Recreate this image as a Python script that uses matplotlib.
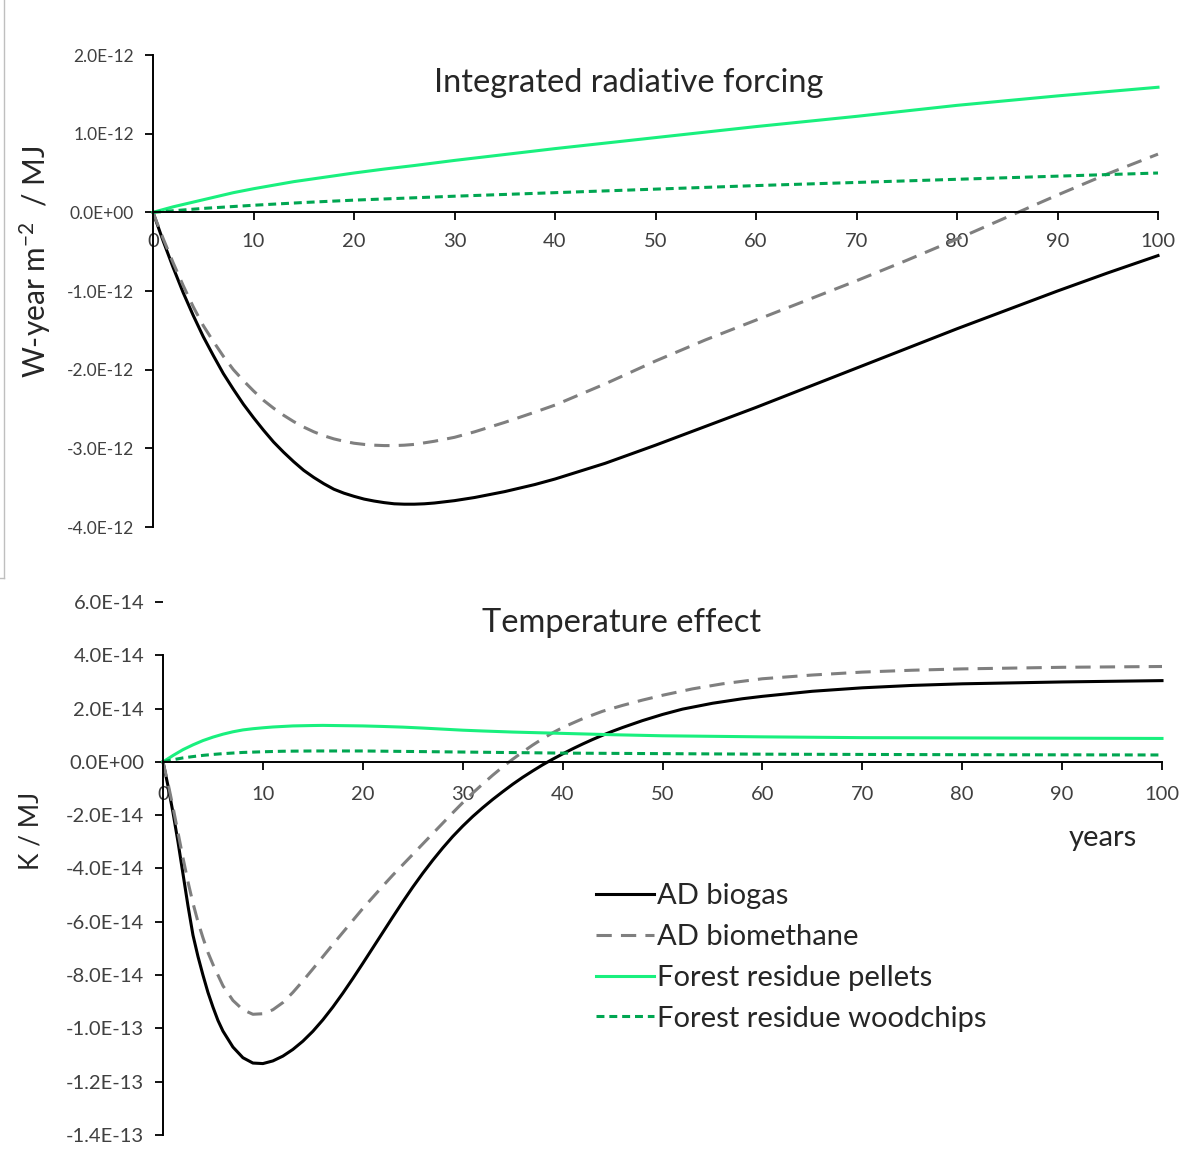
import matplotlib
matplotlib.use('Agg')
import matplotlib.pyplot as plt
from matplotlib.lines import Line2D
from matplotlib.ticker import FuncFormatter

plt.rcParams['font.family'] = ['Lato', 'DejaVu Sans']
plt.rcParams['mathtext.default'] = 'regular'

# top panel: integrated radiative forcing, in units of 1E-12 W-year m-2 / MJ
irf_bg_yr = [0, 1, 2, 3, 4, 5, 6, 7, 8, 9, 10, 11, 12, 13, 14, 15, 16, 17, 18, 19,
             20, 21, 22, 23, 24, 25, 26, 27, 28, 29, 30, 32, 35, 38, 40, 45, 50,
             55, 60, 65, 70, 75, 80, 85, 90, 95, 100]
irf_bg = [0, -0.36, -0.70, -1.02, -1.31, -1.58, -1.82, -2.05, -2.25, -2.44, -2.61,
          -2.77, -2.92, -3.05, -3.17, -3.28, -3.37, -3.45, -3.52, -3.57, -3.61,
          -3.645, -3.67, -3.69, -3.705, -3.71, -3.71, -3.705, -3.695, -3.68,
          -3.665, -3.625, -3.55, -3.46, -3.39, -3.19, -2.96, -2.72, -2.48, -2.23,
          -1.98, -1.73, -1.48, -1.24, -1.00, -0.77, -0.55]

irf_bm_yr = [0, 1, 2, 3, 4, 5, 6, 7, 8, 9, 10, 11, 12, 13, 14, 15, 16, 17, 18, 19,
             20, 21, 22, 23, 24, 25, 26, 27, 28, 30, 32, 35, 38, 40, 45, 50, 55,
             60, 65, 70, 75, 80, 85, 90, 95, 100]
irf_bm = [0, -0.33, -0.64, -0.93, -1.20, -1.44, -1.64, -1.83, -2.00, -2.14, -2.27,
          -2.39, -2.49, -2.58, -2.66, -2.73, -2.79, -2.84, -2.88, -2.91, -2.935,
          -2.95, -2.96, -2.965, -2.965, -2.96, -2.95, -2.93, -2.91, -2.86, -2.79,
          -2.67, -2.54, -2.45, -2.18, -1.89, -1.62, -1.37, -1.12, -0.87, -0.61,
          -0.34, -0.06, 0.22, 0.49, 0.74]

irf_pel_yr = [0, 1, 2, 3, 4, 5, 6, 8, 10, 12, 14, 17, 20, 23, 26, 30, 35, 40, 45,
              50, 60, 70, 80, 90, 100]
irf_pel = [0, 0.035, 0.07, 0.10, 0.13, 0.16, 0.19, 0.25, 0.30, 0.345, 0.39, 0.445,
           0.50, 0.55, 0.595, 0.66, 0.735, 0.81, 0.88, 0.95, 1.09, 1.22, 1.36,
           1.48, 1.59]

irf_wc_yr = [0, 5, 10, 15, 20, 25, 30, 40, 50, 60, 70, 80, 90, 100]
irf_wc = [0, 0.05, 0.09, 0.125, 0.155, 0.18, 0.205, 0.25, 0.295, 0.34, 0.38,
          0.42, 0.46, 0.50]

# bottom panel: temperature effect, in units of 1E-14 K / MJ
tmp_bg_yr = [0, 0.5, 1, 1.5, 2, 2.5, 3, 3.5, 4, 4.5, 5, 5.5, 6, 7, 8, 9, 10, 11,
             12, 13, 14, 15, 16, 17, 18, 19, 20, 21, 22, 23, 24, 25, 26, 27, 28,
             29, 30, 31, 32, 33, 34, 35, 36, 37, 38, 39, 40, 41, 42, 43, 44, 45,
             46, 48, 50, 52, 55, 58, 60, 65, 70, 75, 80, 90, 100]
tmp_bg = [0, -0.9, -1.9, -3.0, -4.2, -5.4, -6.5, -7.3, -8.0, -8.65, -9.2, -9.7,
          -10.1, -10.7, -11.1, -11.3, -11.32, -11.22, -11.04, -10.79, -10.48,
          -10.11, -9.68, -9.2, -8.68, -8.13, -7.56, -6.98, -6.4, -5.82, -5.25,
          -4.7, -4.18, -3.69, -3.23, -2.8, -2.41, -2.05, -1.72, -1.41, -1.12,
          -0.84, -0.58, -0.34, -0.11, 0.1, 0.3, 0.49, 0.67, 0.84, 1.0, 1.15, 1.29,
          1.55, 1.78, 1.98, 2.2, 2.37, 2.46, 2.65, 2.78, 2.87, 2.93, 3.0, 3.05]

tmp_bm_yr = [0, 0.5, 1, 1.5, 2, 2.5, 3, 3.5, 4, 4.5, 5, 5.5, 6, 7, 8, 9, 10, 11,
             12, 13, 14, 15, 16, 17, 18, 19, 20, 21, 22, 23, 24, 25, 26, 27, 28,
             29, 30, 31, 32, 33, 34, 35, 36, 37, 38, 39, 40, 42, 44, 46, 48, 50,
             53, 56, 60, 65, 70, 75, 80, 90, 100]
tmp_bm = [0, -0.8, -1.7, -2.65, -3.6, -4.5, -5.3, -6.0, -6.6, -7.15, -7.6, -8.0,
          -8.4, -8.95, -9.3, -9.47, -9.45, -9.3, -9.03, -8.65, -8.22, -7.77, -7.31,
          -6.85, -6.4, -5.95, -5.5, -5.08, -4.66, -4.25, -3.86, -3.47, -3.08,
          -2.69, -2.3, -1.91, -1.53, -1.17, -0.83, -0.5, -0.19, 0.1, 0.37,
          0.63, 0.87, 1.09, 1.29, 1.62, 1.9, 2.12, 2.32, 2.5, 2.74, 2.93, 3.12,
          3.26, 3.37, 3.44, 3.49, 3.55, 3.58]

tmp_pel_yr = [0, 1, 2, 3, 4, 5, 6, 7, 8, 9, 10, 11, 13, 15, 16, 18, 20, 22, 24,
              26, 28, 30, 32, 35, 38, 40, 45, 50, 55, 60, 70, 80, 90, 100]
tmp_pel = [0, 0.24, 0.46, 0.64, 0.80, 0.93, 1.04, 1.13, 1.20, 1.245, 1.28, 1.31,
           1.35, 1.365, 1.37, 1.36, 1.35, 1.33, 1.305, 1.27, 1.23, 1.19, 1.16,
           1.12, 1.09, 1.07, 1.02, 0.98, 0.96, 0.94, 0.91, 0.90, 0.89, 0.88]

tmp_wc_yr = [0, 1, 2, 3, 4, 5, 6, 8, 10, 12, 15, 20, 25, 30, 40, 50, 60, 70, 80,
             100]
tmp_wc = [0, 0.08, 0.15, 0.20, 0.245, 0.28, 0.31, 0.355, 0.38, 0.40, 0.41, 0.41,
          0.39, 0.37, 0.33, 0.31, 0.29, 0.28, 0.27, 0.26]

labels = ['AD biogas', 'AD biomethane', 'Forest residue pellets',
          'Forest residue woodchips']
x_ticks = list(range(0, 101, 10))
irf_ticks = [-4e-12, -3e-12, -2e-12, -1e-12, 0, 1e-12, 2e-12]
tmp_ticks = [-1.4e-13, -1.2e-13, -1e-13, -8e-14, -6e-14, -4e-14, -2e-14, 0,
             2e-14, 4e-14, 6e-14]

TXT = '#404040'
styles = [dict(color='black', lw=2.2),
          dict(color='#7F7F7F', lw=2.2, dashes=(5, 3)),
          dict(color='#19F07E', lw=2.2),
          dict(color='#00A651', lw=2.2, dashes=(2.6, 1.6))]

W, H = 1192, 1169
fig = plt.figure(figsize=(W / 100, H / 100), dpi=100)

ax1 = fig.add_axes([153 / W, 1 - 527 / H, 1005 / W, 472 / H])
ax2 = fig.add_axes([163 / W, 1 - 1135 / H, 999 / W, 533 / H])


def style_axis(ax, ymin, ymax, ticks, ylab_size, xpad):
    ax.set_xlim(0, 100)
    ax.set_ylim(ymin, ymax)
    for s in ['top', 'right']:
        ax.spines[s].set_visible(False)
    ax.spines['bottom'].set_position(('data', 0))
    for s in ['left', 'bottom']:
        ax.spines[s].set_linewidth(1.4)
    ax.set_xticks(x_ticks)
    ax.set_yticks(ticks)
    ax.yaxis.set_major_formatter(FuncFormatter(lambda v, p: f"{v:.1E}"))
    ax.tick_params(axis='both', direction='out', length=5.5, width=1.3,
                   colors='black', labelcolor=TXT)
    ax.tick_params(axis='x', labelsize=14.5, pad=xpad)
    ax.tick_params(axis='y', labelsize=ylab_size, pad=8)
    ax.patch.set_alpha(0)


style_axis(ax1, -4e-12, 2e-12, irf_ticks, 12.5, 9.5)
style_axis(ax2, -1.4e-13, 6e-14, tmp_ticks, 14.5, 11.5)
ax2.spines['left'].set_bounds(-1.4e-13, 4e-14)

top_series = [(irf_bg_yr, irf_bg), (irf_bm_yr, irf_bm),
              (irf_pel_yr, irf_pel), (irf_wc_yr, irf_wc)]
for (xs, ys), st in zip(top_series, styles):
    ax1.plot(xs, [v * 1e-12 for v in ys], clip_on=False,
             solid_joinstyle='round', **st)

bot_series = [(tmp_bg_yr, tmp_bg), (tmp_bm_yr, tmp_bm),
              (tmp_pel_yr, tmp_pel), (tmp_wc_yr, tmp_wc)]
handles = []
for (xs, ys), st, lab in zip(bot_series, styles, labels):
    h, = ax2.plot(xs, [v * 1e-14 for v in ys], clip_on=False, label=lab,
                  solid_joinstyle='round', **st)
    handles.append(h)

fig.text(629 / W, 1 - 83 / H, 'Integrated radiative forcing', fontsize=23.5,
         color='#262626', ha='center', va='center')
fig.text(622 / W, 1 - 623 / H, 'Temperature effect', fontsize=23.5,
         color='#262626', ha='center', va='center')
fig.text(35 / W, 1 - 262 / H, 'W-year m$^{-2}$  / MJ', fontsize=21.5,
         color='#262626', ha='center', va='center', rotation=90)
fig.text(31 / W, 1 - 831 / H, 'K / MJ', fontsize=19, color='#262626',
         ha='center', va='center', rotation=90)
fig.text(1103 / W, 1 - 838 / H, 'years', fontsize=21, color='#262626',
         ha='center', va='center')

leg = fig.legend(handles=handles, loc='upper left',
                 bbox_to_anchor=(596 / W, 1 - 883 / H), frameon=False,
                 fontsize=21, handlelength=2.0, handletextpad=0.1,
                 labelspacing=0.51, borderpad=0, borderaxespad=0)
for t in leg.get_texts():
    t.set_color('#262626')

# thin frame edge of the embedded top chart
fig.add_artist(Line2D([4 / W, 4 / W], [1, 1 - 578 / H], color='#BFBFBF', lw=1))
fig.add_artist(Line2D([0, 4 / W], [1 - 578 / H, 1 - 578 / H], color='#BFBFBF', lw=1))

fig.savefig('out.png', dpi=100)
